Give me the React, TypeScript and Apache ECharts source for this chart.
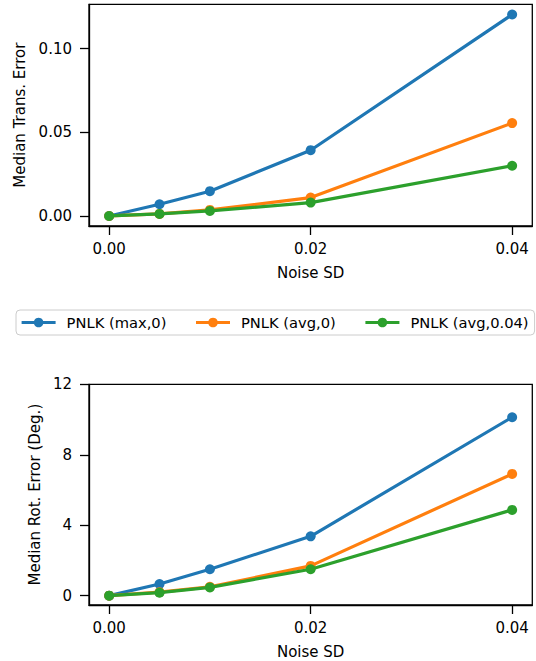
import React, { useEffect, useRef } from "react";
import * as echarts from "echarts";

const noiseSD = [0, 0.005, 0.01, 0.02, 0.04];
const seriesNames = ["PNLK (max,0)", "PNLK (avg,0)", "PNLK (avg,0.04)"];
const colors = ["#1f77b4", "#ff7f0e", "#2ca02c"];

const transMax0 = [0, 0.007, 0.0148, 0.0393, 0.1204];
const transAvg0 = [0, 0.0012, 0.0036, 0.011, 0.0555];
const transAvg004 = [0, 0.0012, 0.003, 0.008, 0.03];

const rotMax0 = [0, 0.66, 1.5, 3.37, 10.13];
const rotAvg0 = [0, 0.2, 0.5, 1.69, 6.91];
const rotAvg004 = [0, 0.17, 0.47, 1.5, 4.87];

const xTicks = [0, 0.02, 0.04];
const transTicks = [0, 0.05, 0.1];
const rotTicks = [0, 4, 8, 12];

const FONT = "DejaVu Sans";

export default function App() {
  const ref = useRef<HTMLDivElement>(null);
  useEffect(() => {
    const chart = echarts.init(ref.current!, undefined, { renderer: "svg" });
    const txt = { color: "#000", fontFamily: FONT, fontSize: 15 };
    const mkX = (gridIndex: number) => ({
      type: "value",
      gridIndex,
      min: -0.002,
      max: 0.042,
      name: "Noise SD",
      nameLocation: "middle",
      nameGap: 39,
      nameTextStyle: txt,
      axisLine: { show: true, onZero: false, lineStyle: { color: "#000", width: 1.3 } },
      axisTick: { show: true, length: 9, customValues: xTicks, lineStyle: { color: "#000", width: 1.3 } },
      axisLabel: { ...txt, margin: 15, customValues: xTicks, formatter: (v: number) => v.toFixed(2) },
      splitLine: { show: false },
    });
    const mkY = (gridIndex: number, min: number, max: number, ticks: number[], name: string, gap: number, fmt: (v: number) => string) => ({
      type: "value",
      gridIndex,
      min,
      max,
      name,
      nameLocation: "middle",
      nameGap: gap,
      nameTextStyle: txt,
      axisLine: { show: true, onZero: false, lineStyle: { color: "#000", width: 1.3 } },
      axisTick: { show: true, length: 9, customValues: ticks, lineStyle: { color: "#000", width: 1.3 } },
      axisLabel: { ...txt, margin: 17, customValues: ticks, formatter: fmt },
      splitLine: { show: false },
    });
    const transData = [transMax0, transAvg0, transAvg004];
    const rotData = [rotMax0, rotAvg0, rotAvg004];
    const mkSeries = (data: number[], i: number, axisIndex: number) => ({
      type: "line",
      name: seriesNames[i],
      xAxisIndex: axisIndex,
      yAxisIndex: axisIndex,
      data: noiseSD.map((x, k) => [x, data[k]]),
      symbol: "circle",
      symbolSize: 10,
      showSymbol: true,
      lineStyle: { width: 3.2, color: colors[i] },
      itemStyle: { color: colors[i] },
      z: 2 + i,
    });
    chart.setOption({
      animation: false,
      backgroundColor: "#fff",
      grid: [
        { left: 89, right: 3.7, top: 4.3, height: 221.7, show: true, borderColor: "#000", borderWidth: 1.3, containLabel: false },
        { left: 89, right: 3.7, top: 384.3, height: 220.7, show: true, borderColor: "#000", borderWidth: 1.3, containLabel: false },
      ],
      xAxis: [mkX(0), mkX(1)],
      yAxis: [
        mkY(0, -0.006, 0.1265, transTicks, "Median Trans. Error", 60, (v: number) => v.toFixed(2)),
        mkY(1, -0.53, 12, rotTicks, "Median Rot. Error (Deg.)", 46, (v: number) => String(v)),
      ],
      legend: {
        left: 16,
        top: 310,
        width: 540,
        orient: "horizontal",
        data: seriesNames,
        itemWidth: 34,
        itemHeight: 12,
        itemGap: 28,
        padding: [5, 6, 5, 4],
        borderColor: "#cccccc",
        borderWidth: 1,
        borderRadius: 4,
        backgroundColor: "#fff",
        lineStyle: { width: 3.2 },
        textStyle: { color: "#000", fontFamily: FONT, fontSize: 14.7, padding: [0, 0, 0, 6] },
      },
      series: [
        ...transData.map((d, i) => mkSeries(d, i, 0)),
        ...rotData.map((d, i) => mkSeries(d, i, 1)),
      ],
    });
    return () => chart.dispose();
  }, []);
  return (
    <div
      ref={ref}
      style={{ position: "fixed", left: 0, top: 0, width: 536, height: 661, background: "#fff" }}
    />
  );
}
